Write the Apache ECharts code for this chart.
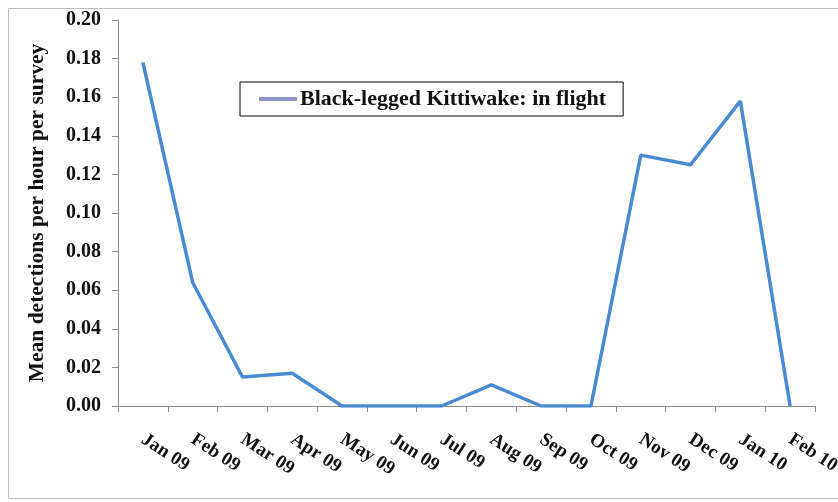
<!DOCTYPE html>
<html><head><meta charset="utf-8">
<script src="https://cdn.jsdelivr.net/npm/echarts@6/dist/echarts.min.js"></script>
<style>html,body{margin:0;padding:0;background:#fff}#c{width:838px;height:502px}</style>
</head><body><div id="c"></div>
<script>
const categories = ['Jan 09','Feb 09','Mar 09','Apr 09','May 09','Jun 09','Jul 09','Aug 09','Sep 09','Oct 09','Nov 09','Dec 09','Jan 10','Feb 10'];
const kittiwake = [0.178, 0.064, 0.015, 0.017, 0, 0, 0, 0.011, 0, 0, 0.130, 0.125, 0.158, 0];
const yTicks = {min: 0, max: 0.20, interval: 0.02};
const seriesName = 'Black-legged Kittiwake: in flight';
const yName = 'Mean detections per hour per survey';

const font = '"Liberation Serif","Times New Roman",serif';
const chart = echarts.init(document.getElementById('c'), null, {renderer: 'canvas'});
chart.setOption({
  animation: false,
  backgroundColor: '#fff',
  graphic: [{type: 'rect', shape: {x: 8.5, y: 8.5, width: 840, height: 490}, style: {fill: 'none', stroke: '#bdbdbd', lineWidth: 1}}],
  grid: {left: 118, right: 23, top: 20, bottom: 96, containLabel: false, outerBoundsMode: 'none'},
  legend: {
    left: 240, top: 82, data: [seriesName],
    itemWidth: 38, itemHeight: 4, itemGap: 0,
    padding: [6, 17, 6, 19],
    borderColor: '#000', borderWidth: 1,
    icon: 'rect',
    itemStyle: {color: '#8f93cc'},
    textStyle: {fontFamily: font, fontWeight: 'bold', fontSize: 22, color: '#111', padding: [0, 0, 0, -2]}
  },
  xAxis: {
    type: 'category', data: categories, boundaryGap: true,
    axisLine: {lineStyle: {color: '#8c8c8c', width: 1}},
    axisTick: {show: true, length: 6, inside: false, lineStyle: {color: '#8c8c8c'}},
    axisLabel: {rotate: -33, margin: 32, fontFamily: font, fontWeight: 'bold', fontSize: 19, color: '#111', interval: 0, hideOverlap: false}
  },
  yAxis: {
    type: 'value', min: yTicks.min, max: yTicks.max, interval: yTicks.interval,
    name: yName, nameLocation: 'middle', nameGap: 70, nameRotate: 90,
    nameTextStyle: {fontFamily: font, fontWeight: 'bold', fontSize: 21.5, color: '#111'},
    axisLine: {show: true, lineStyle: {color: '#8c8c8c', width: 1}},
    axisTick: {show: true, length: 6, lineStyle: {color: '#8c8c8c'}},
    splitLine: {show: false},
    axisLabel: {fontFamily: font, fontWeight: 'bold', fontSize: 20, color: '#111', margin: 17,
      formatter: v => v.toFixed(2)}
  },
  series: [{
    name: seriesName, type: 'line', data: kittiwake,
    symbol: 'none', lineStyle: {color: '#4a8ad4', width: 3.5},
    itemStyle: {color: '#8f93cc'}
  }]
});
</script></body></html>
